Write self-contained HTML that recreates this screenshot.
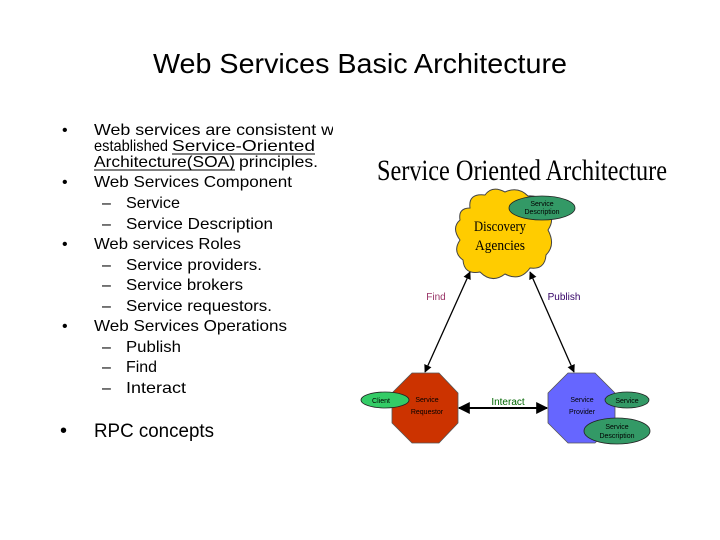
<!DOCTYPE html>
<html><head><meta charset="utf-8"><style>html,body{margin:0;padding:0;background:#fff}svg{display:block}</style></head>
<body>
<svg width="720" height="540" viewBox="0 0 720 540" xmlns="http://www.w3.org/2000/svg">
<defs>
<marker id="ah" viewBox="0 0 10 10" refX="9" refY="5" markerWidth="6" markerHeight="6" orient="auto-start-reverse"><path d="M0,0 L10,5 L0,10 z" fill="#000"/></marker>
</defs>
<rect width="720" height="540" fill="#fff"/>
<text x="360" y="73" text-anchor="middle" font-family="Liberation Sans, sans-serif" font-size="28" textLength="414" lengthAdjust="spacingAndGlyphs">Web Services Basic Architecture</text>
<g font-family="Liberation Sans, sans-serif" font-size="16" fill="#000">
<text x="62" y="135">•</text><text x="94" y="135" textLength="240" lengthAdjust="spacingAndGlyphs">Web services are consistent w</text>
<text x="94" y="151" textLength="74" lengthAdjust="spacingAndGlyphs">established</text>
<text x="172" y="151" textLength="143" lengthAdjust="spacingAndGlyphs">Service-Oriented</text>
<line x1="172" y1="154" x2="315" y2="154" stroke="#000" stroke-width="1"/>
<text x="94" y="167" textLength="141" lengthAdjust="spacingAndGlyphs">Architecture(SOA)</text>
<text x="239" y="167" textLength="79" lengthAdjust="spacingAndGlyphs">principles.</text>
<line x1="94" y1="170" x2="235" y2="170" stroke="#000" stroke-width="1"/>
<text x="62" y="187">•</text><text x="94" y="187" textLength="198" lengthAdjust="spacingAndGlyphs">Web Services Component</text>
<text x="102" y="208">–</text><text x="126" y="208" textLength="54" lengthAdjust="spacingAndGlyphs">Service</text>
<text x="102" y="229">–</text><text x="126" y="229" textLength="147" lengthAdjust="spacingAndGlyphs">Service Description</text>
<text x="62" y="249">•</text><text x="94" y="249" textLength="147" lengthAdjust="spacingAndGlyphs">Web services Roles</text>
<text x="102" y="270">–</text><text x="126" y="270" textLength="136" lengthAdjust="spacingAndGlyphs">Service providers.</text>
<text x="102" y="290">–</text><text x="126" y="290" textLength="117" lengthAdjust="spacingAndGlyphs">Service brokers</text>
<text x="102" y="311">–</text><text x="126" y="311" textLength="146" lengthAdjust="spacingAndGlyphs">Service requestors.</text>
<text x="62" y="331">•</text><text x="94" y="331" textLength="193" lengthAdjust="spacingAndGlyphs">Web Services Operations</text>
<text x="102" y="352">–</text><text x="126" y="352" textLength="55" lengthAdjust="spacingAndGlyphs">Publish</text>
<text x="102" y="372">–</text><text x="126" y="372" textLength="31" lengthAdjust="spacingAndGlyphs">Find</text>
<text x="102" y="393">–</text><text x="126" y="393" textLength="60" lengthAdjust="spacingAndGlyphs">Interact</text>
<text x="60" y="437" font-size="20">•</text><text x="94" y="437" font-size="19" textLength="120" lengthAdjust="spacingAndGlyphs">RPC concepts</text>
</g>
<rect x="333" y="120" width="350" height="345" fill="#fff"/>
<text x="522" y="180" text-anchor="middle" font-family="Liberation Serif, serif" font-size="30" textLength="290" lengthAdjust="spacingAndGlyphs">Service Oriented Architecture</text>
<g fill="#ffcc00" stroke="#444" stroke-width="1">
<path d="M470,208 Q468,193 485,195 Q492,185 505,192 Q518,186 528,196 Q545,195 546,210 Q556,218 548,230 Q556,245 546,255 Q545,270 530,268 Q520,282 505,274 Q492,284 480,272 Q464,275 463,260 Q452,252 460,240 Q451,228 460,220 Q458,208 470,208 Z"/>
</g>
<text x="500" y="231" text-anchor="middle" font-family="Liberation Serif, serif" font-size="15" textLength="52" lengthAdjust="spacingAndGlyphs">Discovery</text>
<text x="500" y="250" text-anchor="middle" font-family="Liberation Serif, serif" font-size="15" textLength="50" lengthAdjust="spacingAndGlyphs">Agencies</text>
<ellipse cx="542" cy="208" rx="33" ry="12" fill="#339966" stroke="#222" stroke-width="0.8"/>
<text x="542" y="206" text-anchor="middle" font-family="Liberation Sans, sans-serif" font-size="7">Service</text>
<text x="542" y="214" text-anchor="middle" font-family="Liberation Sans, sans-serif" font-size="7">Description</text>
<line x1="470" y1="272" x2="425" y2="372" stroke="#000" stroke-width="1.3" marker-start="url(#ah)" marker-end="url(#ah)"/>
<line x1="530" y1="272" x2="574" y2="372" stroke="#000" stroke-width="1.3" marker-start="url(#ah)" marker-end="url(#ah)"/>
<line x1="459" y1="408" x2="547" y2="408" stroke="#000" stroke-width="2" marker-start="url(#ah)" marker-end="url(#ah)"/>
<text x="436" y="300" text-anchor="middle" font-family="Liberation Sans, sans-serif" font-size="10" fill="#993366">Find</text>
<text x="564" y="300" text-anchor="middle" font-family="Liberation Sans, sans-serif" font-size="10" fill="#330066">Publish</text>
<text x="508" y="405" text-anchor="middle" font-family="Liberation Sans, sans-serif" font-size="10" fill="#006600">Interact</text>
<polygon points="412,373 439,373 458,393 458,423 439,443 412,443 392,423 392,393" fill="#cc3300" stroke="#555" stroke-width="0.8"/>
<polygon points="568,373 595,373 615,393 615,423 595,443 568,443 548,423 548,393" fill="#6666ff" stroke="#555" stroke-width="0.8"/>
<text x="427" y="402" text-anchor="middle" font-family="Liberation Sans, sans-serif" font-size="7">Service</text>
<text x="427" y="414" text-anchor="middle" font-family="Liberation Sans, sans-serif" font-size="7">Requestor</text>
<text x="582" y="402" text-anchor="middle" font-family="Liberation Sans, sans-serif" font-size="7">Service</text>
<text x="582" y="414" text-anchor="middle" font-family="Liberation Sans, sans-serif" font-size="7">Provider</text>
<ellipse cx="385" cy="400" rx="24" ry="8" fill="#33cc66" stroke="#222" stroke-width="0.8"/>
<text x="381" y="403" text-anchor="middle" font-family="Liberation Sans, sans-serif" font-size="7">Client</text>
<ellipse cx="627" cy="400" rx="22" ry="8" fill="#339966" stroke="#222" stroke-width="0.8"/>
<text x="627" y="403" text-anchor="middle" font-family="Liberation Sans, sans-serif" font-size="7">Service</text>
<ellipse cx="617" cy="431" rx="33" ry="13" fill="#339966" stroke="#222" stroke-width="0.8"/>
<text x="617" y="429" text-anchor="middle" font-family="Liberation Sans, sans-serif" font-size="7">Service</text>
<text x="617" y="438" text-anchor="middle" font-family="Liberation Sans, sans-serif" font-size="7">Description</text>
</svg>
</body></html>
